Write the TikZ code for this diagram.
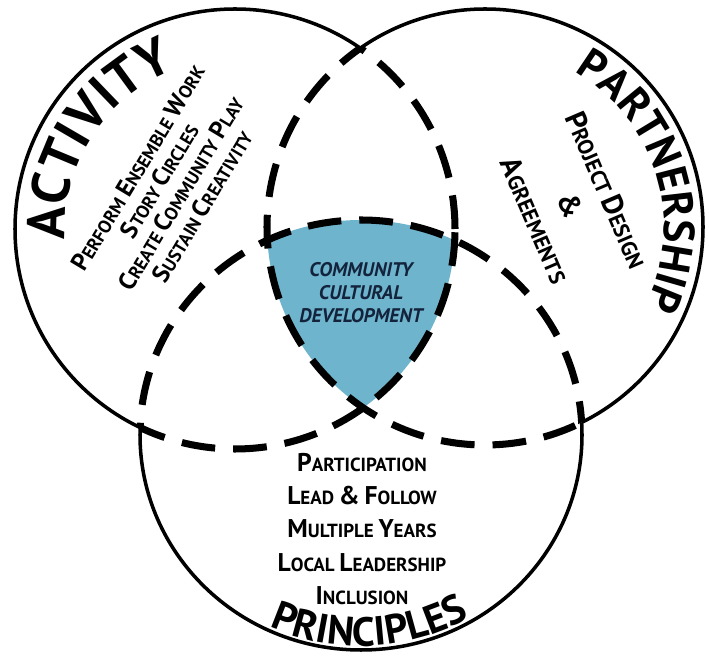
\documentclass[tikz,border=0pt]{standalone}
\usepackage{fontspec}
\setmainfont{PT Sans}
\usepackage{graphicx}
\usetikzlibrary{decorations.text}

\definecolor{ccdblue}{RGB}{110,180,205}
\definecolor{ccdnavy}{RGB}{20,35,60}

% fake small caps: bigger first letter
\newcommand{\capsc}[2]{\scalebox{1.35}{#1}#2}

\tikzset{
  outline/.style={line width=2.5pt},
  inline/.style={line width=5pt,dash pattern=on 24pt off 12.8pt},
  actlist/.style={font=\bfseries\fontsize{13}{17.8}\selectfont,align=center,inner sep=0pt},
  parlist/.style={font=\bfseries\fontsize{15.5}{27.7}\selectfont,align=center,inner sep=0pt},
  prilist/.style={font=\bfseries\fontsize{13.5}{23.5}\selectfont,align=center,inner sep=0pt},
  ccdlabel/.style={font=\bfseries\itshape\fontsize{14}{16.4}\selectfont,text=ccdnavy,align=center,inner sep=0pt}
}

\begin{document}
\begin{tikzpicture}[x=0.025cm,y=0.025cm]
    \useasboundingbox (0,0) rectangle (709,656);

    %Centres
    \coordinate (act) at (235,427);
    \coordinate (par) at (485,429);
    \coordinate (pri) at (361,221);

    %Shared part
    \begin{scope}
    \clip (act) circle[radius=220];
    \clip (par) circle[radius=218];
    \fill[ccdblue] (pri) ellipse[x radius=221,y radius=215];
    \end{scope}

    %Outer arcs
    \begin{scope}[even odd rule]
    \clip (-10,-10) rectangle (720,670) (par) circle[radius=218];
    \clip (-10,-10) rectangle (720,670) (pri) ellipse[x radius=221,y radius=215];
    \draw[outline] (act) circle[radius=220];
    \end{scope}
    \begin{scope}[even odd rule]
    \clip (-10,-10) rectangle (720,670) (act) circle[radius=220];
    \clip (-10,-10) rectangle (720,670) (pri) ellipse[x radius=221,y radius=215];
    \draw[outline] (par) circle[radius=218];
    \end{scope}
    \begin{scope}[even odd rule]
    \clip (-10,-10) rectangle (720,670) (act) circle[radius=220];
    \clip (-10,-10) rectangle (720,670) (par) circle[radius=218];
    \draw[outline] (pri) ellipse[x radius=221,y radius=215];
    \end{scope}

    %Inner arcs
    \begin{scope}
    \clip (par) circle[radius=218] (pri) ellipse[x radius=221,y radius=215];
    \draw[inline] (act) circle[radius=220];
    \end{scope}
    \begin{scope}
    \clip (act) circle[radius=220] (pri) ellipse[x radius=221,y radius=215];
    \draw[inline] (par) circle[radius=218];
    \end{scope}
    \begin{scope}
    \clip (act) circle[radius=220] (par) circle[radius=218];
    \draw[inline] (pri) ellipse[x radius=221,y radius=215];
    \end{scope}

    %Headings
    \path[decorate,decoration={text along path,text align=center,
        text={|\fontsize{38}{38}\selectfont\bfseries|ACTIVITY}}]
        ([shift={(192:170)}]act) arc[start angle=192,end angle=102,radius=170];
    \path[decorate,decoration={text along path,text align=center,
        text={|\fontsize{31}{31}\selectfont\bfseries|PARTNERSHIP}}]
        ([shift={(67:179)}]par) arc[start angle=67,end angle=-33,radius=179];
    \path[decorate,decoration={text along path,text align=center,
        text={|\fontsize{29}{29}\selectfont\bfseries|PRINCIPLES}}]
        ([shift={(240:217 and 211)}]pri) arc[start angle=240,end angle=305,x radius=217,y radius=211];

    %Lists
    \node[actlist,rotate=59] (actitems) at (170,469)
        {\capsc{P}{ERFORM} \capsc{E}{NSEMBLE} \capsc{W}{ORK}\\
         \capsc{S}{TORY} \capsc{C}{IRCLES}\\
         \capsc{C}{REATE} \capsc{C}{OMMUNITY} \capsc{P}{LAY}\\
         \capsc{S}{USTAIN} \capsc{C}{REATIVITY}};
    \node[parlist,rotate=-66.8] (paritems) at (571,451)
        {\capsc{P}{ROJECT} \capsc{D}{ESIGN}\\
         \capsc{\&}{}\\
         \capsc{A}{GREEMENTS}};
    \node[prilist] (priitems) at (362,127)
        {\capsc{P}{ARTICIPATION}\\
         \capsc{L}{EAD} \capsc{\&}{} \capsc{F}{OLLOW}\\
         \capsc{M}{ULTIPLE} \capsc{Y}{EARS}\\
         \capsc{L}{OCAL} \capsc{L}{EADERSHIP}\\
         \capsc{I}{NCLUSION}};

    %Centre label
    \node[ccdlabel] (ccd) at (361,363) {COMMUNITY\\CULTURAL\\DEVELOPMENT};
\end{tikzpicture}
\end{document}
